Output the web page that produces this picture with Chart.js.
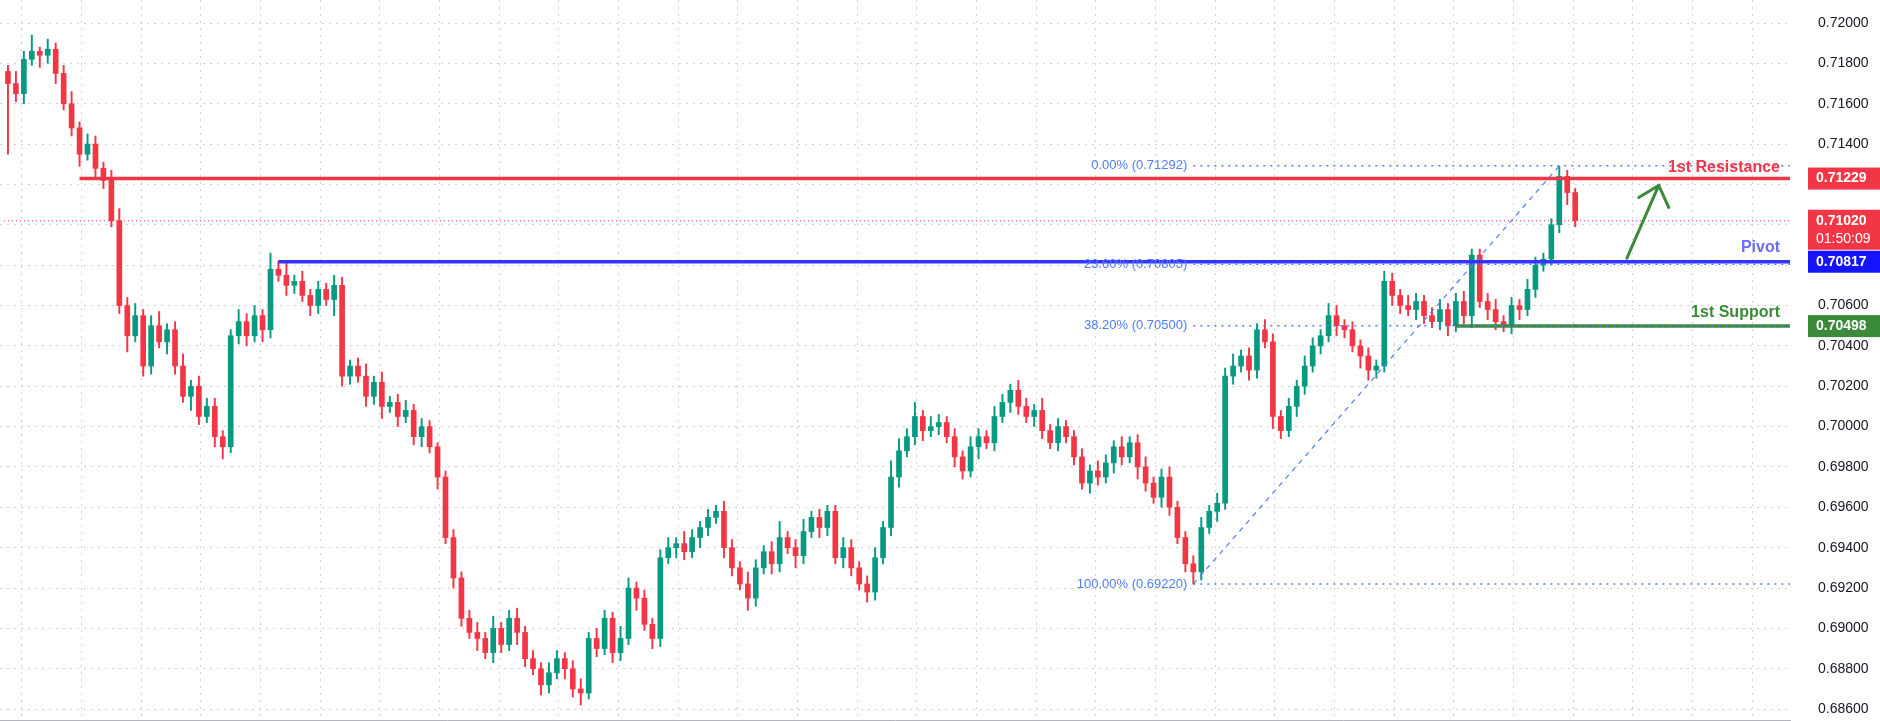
<!DOCTYPE html>
<html>
<head>
<meta charset="utf-8">
<script src="https://cdn.jsdelivr.net/npm/chart.js@4/dist/chart.umd.min.js"></script>
<style>
  html, body { margin: 0; padding: 0; background: #fff; overflow: hidden; }
  canvas { display: block; }
</style>
</head>
<body>
<canvas id="chart" width="1880" height="721"></canvas>
<script>
// price data (open = previous close)
const firstOpen = 0.7176;
const closes = [
  0.7170, 0.7165, 0.7182, 0.7186, 0.7184, 0.7187, 0.7175, 0.7160, 0.7148, 0.7135, 0.7140, 0.7128, 0.7122, 0.7102,
  0.7060, 0.7045, 0.7055, 0.7030, 0.7050, 0.7042, 0.7048, 0.7030, 0.7015, 0.7020, 0.7005, 0.7010, 0.6995, 0.6990, 0.7045,
  0.7052, 0.7045, 0.7055, 0.7048, 0.7078, 0.7075, 0.7070, 0.7072, 0.7065, 0.7060, 0.7068, 0.7063, 0.7070, 0.7025, 0.7030,
  0.7025, 0.7015, 0.7022, 0.7010, 0.7012, 0.7005, 0.7008, 0.6995, 0.7000, 0.6990, 0.6975, 0.6945, 0.6925, 0.6905, 0.6898,
  0.6895, 0.6888, 0.6900, 0.6892, 0.6905, 0.6898, 0.6885, 0.6880, 0.6872, 0.6878, 0.6885, 0.6880, 0.6870, 0.6868, 0.6895,
  0.6890, 0.6905, 0.6888, 0.6895, 0.6920, 0.6915, 0.6902, 0.6895, 0.6935, 0.6940, 0.6942, 0.6938, 0.6945, 0.6950, 0.6955,
  0.6958, 0.6940, 0.6930, 0.6922, 0.6915, 0.6930, 0.6938, 0.6932, 0.6945, 0.6940, 0.6936, 0.6948, 0.6955, 0.6950, 0.6958,
  0.6935, 0.6940, 0.6930, 0.6922, 0.6918, 0.6935, 0.6950, 0.6975, 0.6988, 0.6995, 0.7005, 0.6998, 0.7000, 0.7002, 0.6995,
  0.6985, 0.6978, 0.6990, 0.6995, 0.6992, 0.7005, 0.7012, 0.7018, 0.7010, 0.7005, 0.7008, 0.6998, 0.6992, 0.7000, 0.6995,
  0.6985, 0.6972, 0.6978, 0.6975, 0.6982, 0.6990, 0.6985, 0.6992, 0.6980, 0.6972, 0.6965, 0.6975, 0.6960, 0.6945, 0.6932,
  0.6928, 0.6950, 0.6958, 0.6962, 0.7025, 0.7030, 0.7035, 0.7028, 0.7048, 0.7042, 0.7005, 0.6998, 0.7010, 0.7020, 0.7030,
  0.7040, 0.7045, 0.7055, 0.7050, 0.7048, 0.7040, 0.7035, 0.7028, 0.7030, 0.7072, 0.7065, 0.7060, 0.7058, 0.7062, 0.7055,
  0.7052, 0.7058, 0.7050, 0.7062, 0.7055, 0.7085, 0.7062, 0.7058, 0.7052, 0.7050, 0.7060, 0.7058, 0.7068, 0.7080, 0.7083,
  0.7100, 0.7124, 0.7116, 0.7102
];
// wick lengths beyond the body, in pips
const upWicks = [
  3, 6, 4, 8, 2, 5, 3, 4, 6, 3, 5, 4, 3, 5,
  6, 4, 6, 3, 5, 7, 3, 4, 6, 3, 5, 4, 4, 3, 3,
  6, 4, 5, 3, 8, 4, 6, 3, 5, 3, 4, 3, 5, 4, 3,
  4, 6, 3, 5, 3, 4, 5, 3, 4, 3, 2, 3, 4, 3, 4,
  5, 3, 6, 3, 4, 5, 3, 4, 3, 5, 4, 3, 4, 5, 3,
  5, 4, 3, 6, 5, 3, 4, 3, 4, 5, 3, 6, 4, 3, 4,
  3, 5, 4, 3, 6, 4, 3, 5, 8, 3, 4, 6, 3, 4, 3,
  3, 5, 4, 3, 4, 5, 3, 8, 6, 4, 7, 3, 5, 4, 3,
  4, 3, 5, 4, 3, 5, 4, 3, 5, 4, 3, 6, 3, 4, 3,
  3, 4, 3, 5, 4, 3, 5, 3, 4, 5, 3, 4, 5, 3, 3,
  4, 5, 3, 5, 4, 6, 3, 4, 3, 5, 4, 3, 4, 3, 5,
  4, 3, 6, 5, 3, 4, 3, 4, 3, 5, 4, 3, 5, 4, 3,
  4, 5, 3, 4, 5, 3, 3, 4, 5, 3, 4, 3, 5, 4, 3,
  3, 5, 3, 2
];
const downWicks = [
  35, 4, 5, 3, 6, 4, 5, 3, 4, 6, 3, 5, 4, 3,
  4, 8, 3, 5, 4, 3, 6, 4, 3, 7, 4, 3, 5, 6, 3,
  4, 5, 3, 6, 4, 3, 5, 4, 3, 5, 4, 3, 8, 5, 4,
  3, 5, 4, 6, 3, 5, 3, 4, 5, 3, 6, 3, 5, 4, 3,
  6, 3, 5, 4, 3, 6, 4, 3, 5, 4, 3, 5, 4, 6, 3,
  4, 3, 5, 4, 3, 6, 3, 5, 4, 3, 5, 4, 3, 5, 4,
  3, 5, 4, 3, 6, 4, 3, 5, 4, 3, 6, 4, 3, 5, 4,
  3, 5, 4, 3, 5, 4, 3, 4, 5, 3, 4, 5, 3, 4, 3,
  5, 4, 3, 6, 3, 4, 3, 5, 4, 3, 5, 4, 3, 4, 3,
  4, 3, 5, 4, 3, 5, 4, 3, 6, 4, 3, 5, 4, 3, 4,
  6, 4, 3, 5, 3, 4, 3, 5, 4, 3, 6, 4, 3, 5, 4,
  3, 4, 3, 5, 4, 3, 6, 5, 4, 3, 5, 4, 3, 5, 4,
  3, 4, 5, 3, 4, 6, 3, 5, 4, 3, 4, 5, 3, 4, 3,
  3, 4, 6, 3
];
const yTicks = [0.686, 0.688, 0.690, 0.692, 0.694, 0.696, 0.698, 0.700, 0.702, 0.704,
  0.706, 0.708, 0.710, 0.712, 0.714, 0.716, 0.718, 0.720];
const levels = { resistance: 0.71229, pivot: 0.70817, support: 0.70498, last: 0.71020 };
const fibLevels = [0.71292, 0.70805, 0.70500, 0.69220];
const fibLabels = ["0.00% (0.71292)", "23.60% (0.70805)", "38.20% (0.70500)", "100.00% (0.69220)"];
const fibStart = 149, fibEnd = 195;
const xMax = 224;

const GREEN = "#089981", RED = "#f23645";
const opens = closes.map((c, i) => i === 0 ? firstOpen : closes[i - 1]);
const colors = closes.map((c, i) => c >= opens[i] ? GREEN : RED);
const bodies = closes.map((c, i) => ({ x: i, y: [opens[i], c] }));
const wicks = closes.map((c, i) => ({
  x: i,
  y: [Math.min(opens[i], c) - downWicks[i] / 10000, Math.max(opens[i], c) + upWicks[i] / 10000]
}));

function hline(y, from, color, width, dash) {
  return {
    type: "line", data: [{ x: from, y: y }, { x: xMax, y: y }],
    borderColor: color, borderWidth: width, borderDash: dash || [], pointRadius: 0, order: 0
  };
}

const overlay = {
  id: "overlay",
  afterDraw(chart) {
    const { ctx, chartArea, scales } = chart;
    const X = v => scales.x.getPixelForValue(v), Y = v => scales.y.getPixelForValue(v);
    ctx.save();
    // fib labels
    ctx.font = "13px 'Liberation Sans', Arial";
    ctx.fillStyle = "#4f7cff";
    ctx.textAlign = "right"; ctx.textBaseline = "middle";
    fibLevels.forEach((v, i) => ctx.fillText(fibLabels[i], X(fibStart) - 6, Y(v)));
    // level titles
    ctx.font = "bold 16px 'Liberation Sans', Arial";
    ctx.textBaseline = "bottom";
    ctx.fillStyle = RED; ctx.fillText("1st Resistance", chartArea.right - 10, Y(levels.resistance) - 3);
    ctx.fillStyle = "#6b6bff"; ctx.fillText("Pivot", chartArea.right - 10, Y(levels.pivot) - 6);
    ctx.fillStyle = "#3a8a3a"; ctx.fillText("1st Support", chartArea.right - 10, Y(levels.support) - 6);
    // arrow
    const ax0 = X(203.5), ay0 = Y(0.70835), ax1 = X(207.5), ay1 = Y(0.71195);
    ctx.strokeStyle = "#3a8a3a"; ctx.lineWidth = 3; ctx.lineCap = "round";
    ctx.beginPath(); ctx.moveTo(ax0, ay0); ctx.lineTo(ax1, ay1); ctx.stroke();
    ctx.beginPath(); ctx.moveTo(ax1 - 20, ay1 + 12); ctx.lineTo(ax1, ay1); ctx.lineTo(ax1 + 10, ay1 + 22); ctx.stroke();
    // axis price boxes
    const bx = chartArea.right + 18, bw = 74;
    ctx.font = "bold 14px 'Liberation Sans', Arial";
    ctx.textAlign = "left"; ctx.textBaseline = "middle";
    function box(v, color, extra) {
      const h = extra ? 40 : 22, y = Y(v) - 11;
      ctx.fillStyle = color; ctx.fillRect(bx, y, bw, h);
      ctx.fillStyle = "#fff"; ctx.fillText(v.toFixed(5), bx + 8, Y(v));
      if (extra) { ctx.font = "14px 'Liberation Sans', Arial"; ctx.fillText(extra, bx + 8, Y(v) + 18); ctx.font = "bold 14px 'Liberation Sans', Arial"; }
    }
    box(levels.resistance, RED);
    box(levels.last, RED, "01:50:09");
    box(levels.pivot, "#1414ff");
    box(levels.support, "#3a8a3a");
    ctx.restore();
  }
};

new Chart(document.getElementById("chart"), {
  type: "bar",
  data: {
    datasets: [
      hline(levels.last, -0.5, RED, 1, [1, 3]),
      hline(fibLevels[0], fibStart, "#4f7cff", 1.5, [2, 5]),
      hline(fibLevels[1], fibStart, "#4f7cff", 1.5, [2, 5]),
      hline(fibLevels[2], fibStart, "#4f7cff", 1.5, [2, 5]),
      hline(fibLevels[3], fibStart, "#4f7cff", 1.5, [2, 5]),
      { type: "line", data: [{ x: fibStart, y: fibLevels[3] }, { x: fibEnd, y: fibLevels[0] }],
        borderColor: "#4f7cff", borderWidth: 1.2, borderDash: [5, 5], pointRadius: 0, order: 0 },
      hline(levels.resistance, 9, RED, 3.5),
      hline(levels.pivot, 34, "#3333ff", 3.5),
      hline(levels.support, 182, "#3a8a3a", 3.5),
      { data: wicks, backgroundColor: colors, barThickness: 1.3, grouped: false, order: 2 },
      { data: bodies, backgroundColor: colors, barThickness: 5, grouped: false, order: 1 }
    ]
  },
  options: {
    responsive: false, animation: false,
    layout: { padding: 0 },
    plugins: { legend: { display: false }, tooltip: { enabled: false } },
    scales: {
      x: {
        type: "linear", min: -1, max: xMax, offset: false,
        afterBuildTicks(s) { const t = []; for (let v = 5.5; v < xMax; v += 7.5) t.push({ value: v }); s.ticks = t; },
        afterFit(s) { s.height = 1; s.paddingTop = 0; s.paddingBottom = 0; s.paddingLeft = 0; s.paddingRight = 0; },
        ticks: { display: false },
        grid: { color: "#d0d3da", lineWidth: 1, borderDash: [2, 5], drawTicks: false },
        border: { display: true, color: "#b2b5be", dash: [2, 5] }
      },
      y: {
        position: "right", min: 0.68546, max: 0.72114,
        afterBuildTicks(s) { s.ticks = yTicks.map(v => ({ value: v })); },
        afterFit(s) { s.width = 90; s.paddingTop = 0; s.paddingBottom = 0; },
        ticks: { color: "#131722", font: { size: 14, family: "'Liberation Sans', Arial" }, padding: 28,
          callback: v => v.toFixed(5) },
        grid: { color: "#d0d3da", borderDash: [2, 5], drawTicks: false },
        border: { display: false, dash: [2, 5] }
      }
    }
  },
  plugins: [overlay]
});
</script>
</body>
</html>
